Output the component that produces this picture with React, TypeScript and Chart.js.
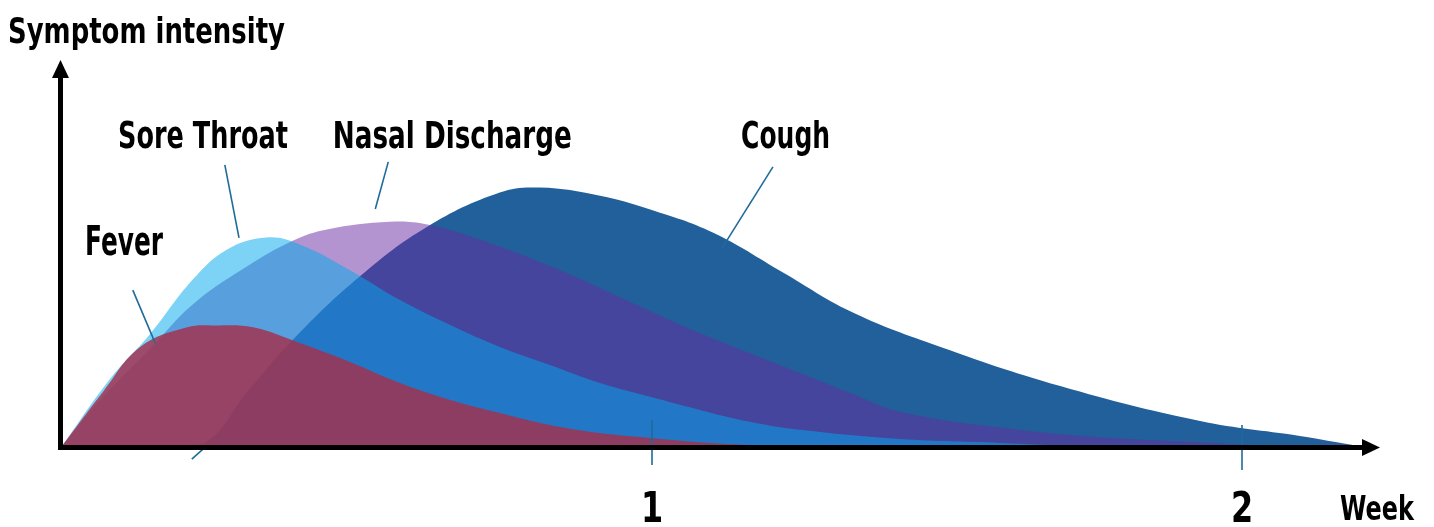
import React, { useEffect, useRef } from "react";
import { Chart, registerables } from "chart.js";

Chart.register(...registerables);

// ---- Data (x in weeks, y = symptom intensity, 0–100) ----
const feverWeeks = [0, 0.069, 0.132, 0.212, 0.259, 0.324, 0.403, 0.488, 0.573, 0.658, 0.742, 0.827, 0.912, 0.997, 1.081, 1.2];
const feverIntensity = [0, 14.0, 25.7, 30.9, 31.4, 30.9, 26.8, 21.9, 16.4, 12.0, 8.6, 5.5, 3.4, 2.1, 1.0, 0];

const soreThroatWeeks = [0, 0.081, 0.149, 0.222, 0.28, 0.347, 0.403, 0.488, 0.573, 0.658, 0.742, 0.827, 0.912, 0.997, 1.081, 1.166, 1.251, 1.42, 1.59, 1.708];
const soreThroatIntensity = [0, 17.4, 29.1, 43.4, 51.2, 54.3, 52.5, 45.8, 38.0, 31.5, 25.8, 21.1, 16.4, 12.8, 9.4, 6.3, 4.2, 1.8, 0.8, 0];

const nasalWeeks = [0, 0.069, 0.149, 0.222, 0.314, 0.392, 0.449, 0.556, 0.619, 0.708, 0.844, 0.968, 1.081, 1.195, 1.251, 1.336, 1.42, 1.61, 1.759, 1.929, 2.047];
const nasalIntensity = [0, 12.7, 25.2, 36.9, 46.8, 53.5, 56.4, 58.4, 57.7, 53.8, 45.8, 37.2, 29.4, 22.4, 19.0, 13.8, 8.9, 4.4, 2.3, 1.0, 0];

const coughWeeks = [0, 0.149, 0.239, 0.314, 0.392, 0.505, 0.619, 0.742, 0.81, 0.912, 0.997, 1.103, 1.222, 1.336, 1.476, 1.692, 1.929, 2.098, 2.197];
const coughIntensity = [0, 0.1, 0.5, 14.0, 27.8, 44.2, 57.1, 66.0, 67.3, 65.2, 61.6, 55.6, 45.2, 35.1, 26.5, 15.6, 6.5, 2.6, 0];

const seriesNames = ["Fever", "Sore Throat", "Nasal Discharge", "Cough"];
const xTickWeeks = [1, 2];
const xTickLabels = ["1", "2"];
const yAxisTitle = "Symptom intensity";
const xAxisTitle = "Week";

const zip = (xs: number[], ys: number[]) => xs.map((x, i) => ({ x, y: ys[i] }));

const FONT_FAMILY = '"DejaVu Sans", "Liberation Sans", sans-serif';
const LEADER = "#1f6b99";

// annotation geometry in data units (week, intensity); width = rendered text width (condensed look)
const seriesLabels = [
  { text: seriesNames[0], x: 0.039, y: 49.7, size: 41, width: 78, line: [[0.12, 40.6], [0.158, 26.8]] },
  { text: seriesNames[1], x: 0.095, y: 77.6, size: 38, width: 170, line: [[0.276, 73.2], [0.3, 54.2]] },
  { text: seriesNames[2], x: 0.459, y: 77.6, size: 38, width: 239, line: [[0.553, 74.0], [0.531, 61.7]] },
  { text: seriesNames[3], x: 1.151, y: 77.6, size: 38, width: 89, line: [[1.205, 72.7], [1.119, 51.6]] },
];

function drawText(ctx: CanvasRenderingContext2D, text: string, x: number, y: number, size: number, width: number | null, align: CanvasTextAlign) {
  ctx.save();
  ctx.font = `bold ${size}px ${FONT_FAMILY}`;
  ctx.textAlign = align;
  ctx.textBaseline = "alphabetic";
  const w = ctx.measureText(text).width;
  const sx = width ? width / w : 0.76;
  ctx.translate(x, y);
  ctx.scale(sx, 1);
  ctx.fillText(text, 0, 0);
  ctx.restore();
}

const decorations = {
  id: "decorations",
  afterDatasetsDraw(chart: any) {
    const { ctx } = chart;
    const xs = chart.scales.x;
    const ys = chart.scales.y;
    const px = (v: number) => xs.getPixelForValue(v);
    const py = (v: number) => ys.getPixelForValue(v);
    const x0 = px(0);
    const y0 = py(0);
    const yTop = py(100);
    const xEnd = px(xs.max);
    ctx.save();

    // leader lines
    ctx.strokeStyle = LEADER;
    ctx.lineWidth = 1.6;
    for (const l of seriesLabels) {
      ctx.beginPath();
      ctx.moveTo(px(l.line[0][0]), py(l.line[0][1]));
      ctx.lineTo(px(l.line[1][0]), py(l.line[1][1]));
      ctx.stroke();
    }
    ctx.beginPath();
    ctx.moveTo(px(0.22), py(-3.4));
    ctx.lineTo(px(0.239), py(-0.8));
    ctx.stroke();

    // week tick marks
    xTickWeeks.forEach((w, i) => {
      ctx.beginPath();
      ctx.moveTo(px(w), y0 - 26 + i * 5);
      ctx.lineTo(px(w), y0 + 19 + i * 5);
      ctx.stroke();
    });

    // axes
    ctx.fillStyle = "#000";
    ctx.fillRect(x0 - 4, yTop + 14, 5, y0 - yTop - 10);
    ctx.fillRect(x0 - 4, y0 - 1, xEnd - x0 - 13, 5);
    ctx.beginPath();
    ctx.moveTo(x0 - 1.5, yTop - 2);
    ctx.lineTo(x0 - 10, yTop + 16);
    ctx.lineTo(x0 + 7, yTop + 16);
    ctx.closePath();
    ctx.fill();
    ctx.beginPath();
    ctx.moveTo(xEnd, y0 + 1.5);
    ctx.lineTo(xEnd - 18, y0 - 7);
    ctx.lineTo(xEnd - 18, y0 + 10);
    ctx.closePath();
    ctx.fill();

    // text
    for (const l of seriesLabels) {
      drawText(ctx, l.text, px(l.x), py(l.y), l.size, l.width, "left");
    }
    drawText(ctx, yAxisTitle, 8, yTop - 19, 36, 277, "left");
    xTickWeeks.forEach((w, i) => drawText(ctx, xTickLabels[i], px(w), y0 + 76, 42, null, "center"));
    drawText(ctx, xAxisTitle, xEnd - 40, y0 + 74, 34, 74, "left");
    ctx.restore();
  },
};

export default function App() {
  const ref = useRef<HTMLCanvasElement | null>(null);
  useEffect(() => {
    if (!ref.current) return;
    const common = {
      fill: "origin",
      borderWidth: 0,
      borderColor: "transparent",
      pointRadius: 0,
      tension: 0.4,
    };
    const chart = new Chart(ref.current, {
      type: "line",
      data: {
        datasets: [
          { ...common, label: seriesNames[0], data: zip(feverWeeks, feverIntensity), backgroundColor: "rgba(162,50,80,0.845)" },
          { ...common, label: seriesNames[1], data: zip(soreThroatWeeks, soreThroatIntensity), backgroundColor: "rgba(2,170,236,0.515)" },
          { ...common, label: seriesNames[2], data: zip(nasalWeeks, nasalIntensity), backgroundColor: "rgba(103,41,161,0.5)" },
          { ...common, label: seriesNames[3], data: zip(coughWeeks, coughIntensity), backgroundColor: "rgb(34,96,155)" },
        ],
      },
      options: {
        animation: false,
        responsive: true,
        maintainAspectRatio: false,
        events: [],
        layout: { padding: { left: 62, top: 62, right: 54, bottom: 81 } },
        scales: {
          x: { type: "linear", min: 0, max: 1318 / 590, display: false },
          y: { type: "linear", min: 0, max: 100, display: false },
        },
        plugins: { legend: { display: false }, tooltip: { enabled: false } },
      },
      plugins: [decorations],
    });
    return () => chart.destroy();
  }, []);
  return (
    <div style={{ position: "fixed", left: 0, top: 0, width: 1434, height: 527, background: "#fff" }}>
      <canvas ref={ref} />
    </div>
  );
}
